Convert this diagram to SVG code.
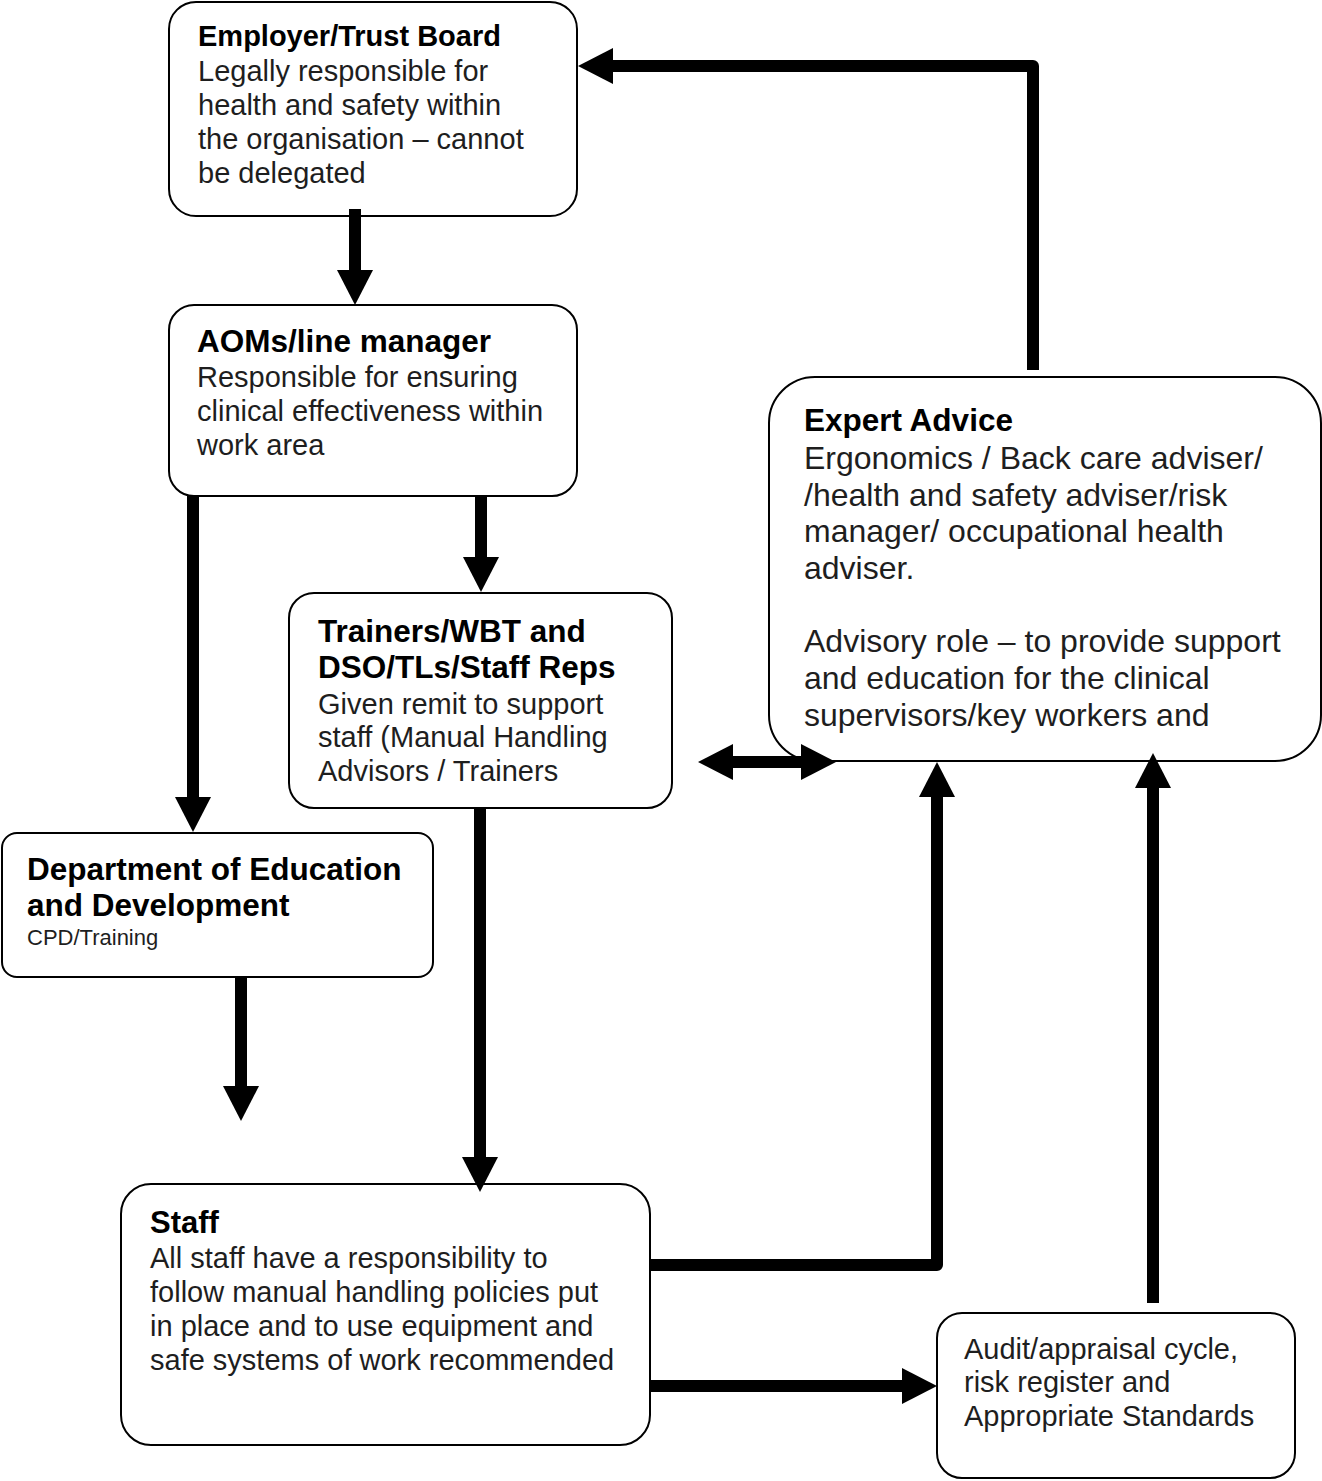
<svg xmlns="http://www.w3.org/2000/svg" width="1322" height="1481" viewBox="0 0 1322 1481">
<style>
.box{fill:#fff;stroke:#000;stroke-width:2}
.h{font-family:"Liberation Sans",Arial,sans-serif;font-weight:bold;fill:#000}
.t{font-family:"Liberation Sans",Arial,sans-serif;fill:#1e1e1e}
.c{fill:none;stroke:#000;stroke-width:12;stroke-linejoin:round}
</style>
<defs>
<marker id="ah" viewBox="0 -18 35 36" refX="0" refY="0" markerWidth="35" markerHeight="36" markerUnits="userSpaceOnUse" orient="auto-start-reverse">
<path d="M0,-18 L35,0 L0,18 Z" fill="#000"/>
</marker>
</defs>
<rect width="1322" height="1481" fill="#fff"/>

<g id="employer">
<rect class="box" x="169" y="2" width="408" height="214" rx="27"/>
<text class="h" x="198" y="46" font-size="29">Employer/Trust Board</text>
<text class="t" font-size="29"><tspan x="198" y="81">Legally responsible for</tspan><tspan x="198" y="115">health and safety within</tspan><tspan x="198" y="149">the organisation – cannot</tspan><tspan x="198" y="183">be delegated</tspan></text>
</g>

<g id="aoms">
<rect class="box" x="169" y="305" width="408" height="191" rx="25"/>
<text class="h" x="197" y="352" font-size="31.5">AOMs/line manager</text>
<text class="t" font-size="29"><tspan x="197" y="387">Responsible for ensuring</tspan><tspan x="197" y="421">clinical effectiveness within</tspan><tspan x="197" y="455">work area</tspan></text>
</g>

<g id="trainers">
<rect class="box" x="289" y="593" width="383" height="215" rx="25"/>
<text class="h" font-size="31.5"><tspan x="318" y="642">Trainers/WBT and</tspan><tspan x="318" y="678">DSO/TLs/Staff Reps</tspan></text>
<text class="t" font-size="29"><tspan x="318" y="714">Given remit to support</tspan><tspan x="318" y="747">staff (Manual Handling</tspan><tspan x="318" y="781">Advisors / Trainers</tspan></text>
</g>

<g id="education">
<rect class="box" x="2" y="833" width="431" height="144" rx="15"/>
<text class="h" font-size="31.5"><tspan x="27" y="880">Department of Education</tspan><tspan x="27" y="916">and Development</tspan></text>
<text class="t" x="27" y="945" font-size="22">CPD/Training</text>
</g>

<g id="expert">
<rect class="box" x="769" y="377" width="552" height="384" rx="46"/>
<text class="h" x="804" y="431" font-size="31.5">Expert Advice</text>
<text class="t" font-size="32"><tspan x="804" y="469">Ergonomics / Back care adviser/</tspan><tspan x="804" y="506">/health and safety adviser/risk</tspan><tspan x="804" y="542">manager/ occupational health</tspan><tspan x="804" y="579">adviser.</tspan><tspan x="804" y="652">Advisory role – to provide support</tspan><tspan x="804" y="689">and education for the clinical</tspan><tspan x="804" y="726">supervisors/key workers and</tspan></text>
</g>

<g id="staff">
<rect class="box" x="121" y="1184" width="529" height="261" rx="30"/>
<text class="h" x="150" y="1233" font-size="31">Staff</text>
<text class="t" font-size="29"><tspan x="150" y="1268">All staff have a responsibility to</tspan><tspan x="150" y="1302">follow manual handling policies put</tspan><tspan x="150" y="1336">in place and to use equipment and</tspan><tspan x="150" y="1370">safe systems of work recommended</tspan></text>
</g>

<g id="audit">
<rect class="box" x="937" y="1313" width="358" height="165" rx="25"/>
<text class="t" font-size="29"><tspan x="964" y="1359">Audit/appraisal cycle,</tspan><tspan x="964" y="1392">risk register and</tspan><tspan x="964" y="1426">Appropriate Standards</tspan></text>
</g>

<g id="connectors">
<path class="c" d="M355,209 V270" marker-end="url(#ah)"/>
<path class="c" d="M1033,370 V66 H613" marker-end="url(#ah)"/>
<path class="c" d="M193,496 V797" marker-end="url(#ah)"/>
<path class="c" d="M481,496 V557" marker-end="url(#ah)"/>
<path class="c" d="M733,762 H801" marker-start="url(#ah)" marker-end="url(#ah)"/>
<path class="c" d="M241,977 V1086" marker-end="url(#ah)"/>
<path class="c" d="M480,808 V1157" marker-end="url(#ah)"/>
<path class="c" d="M650,1265 H937 V797" marker-end="url(#ah)"/>
<path class="c" d="M650,1386 H902" marker-end="url(#ah)"/>
<path class="c" d="M1153,1303 V788" marker-end="url(#ah)"/>
</g>
</svg>
